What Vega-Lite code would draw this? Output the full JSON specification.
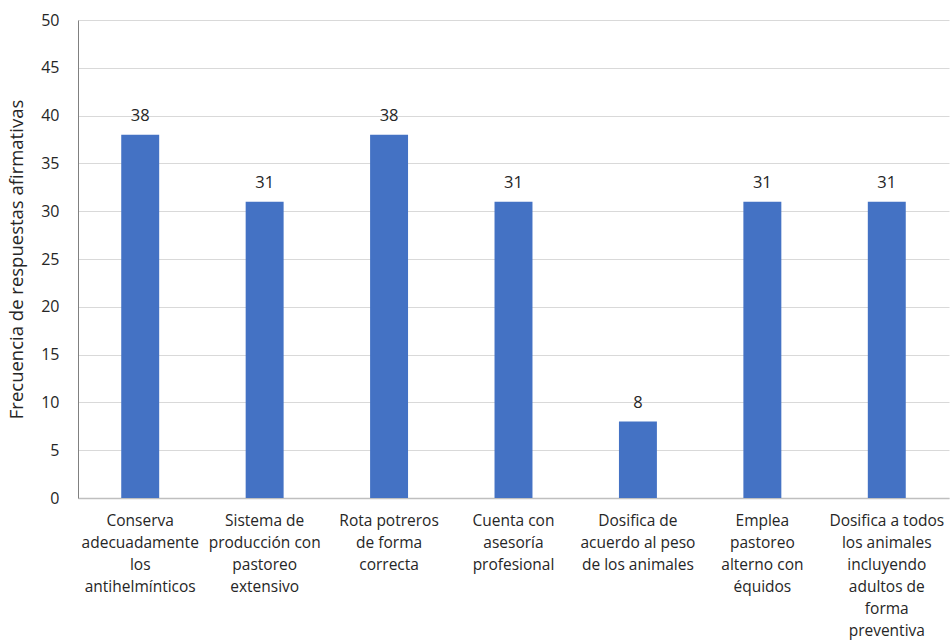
{
  "$schema": "https://vega.github.io/schema/vega-lite/v6.json",
  "autosize": {"type": "none"},
  "width": 871,
  "height": 478,
  "padding": {"left": 78, "top": 20, "right": 2, "bottom": 146},
  "background": "white",
  "config": {
    "view": {"stroke": null},
    "font": "Open Sans"
  },
  "data": {
    "values": [
      {"label": "Conserva|adecuadamente|los|antihelmínticos", "valor": 38},
      {"label": "Sistema de|producción con|pastoreo|extensivo", "valor": 31},
      {"label": "Rota potreros|de forma|correcta", "valor": 38},
      {"label": "Cuenta con|asesoría|profesional", "valor": 31},
      {"label": "Dosifica de|acuerdo al peso|de los animales", "valor": 8},
      {"label": "Emplea|pastoreo|alterno con|équidos", "valor": 31},
      {"label": "Dosifica a todos|los animales|incluyendo|adultos de|forma|preventiva", "valor": 31}
    ]
  },
  "encoding": {
    "x": {
      "field": "label",
      "type": "nominal",
      "sort": null,
      "scale": {"paddingInner": 0, "paddingOuter": 0},
      "axis": {
        "title": null,
        "labelAngle": 0,
        "labelExpr": "split(datum.label, '|')",
        "labelLineHeight": 22,
        "labelFontSize": 15.5,
        "labelColor": "#262626",
        "labelPadding": 15,
        "labelBaseline": "top",
        "ticks": false,
        "domainColor": "#BFBFBF",
        "domainWidth": 1.5,
        "labelLimit": 200
      }
    },
    "y": {
      "field": "valor",
      "type": "quantitative",
      "scale": {"domain": [0, 50]},
      "axis": {
        "title": "Frecuencia de respuestas afirmativas",
        "titleFontSize": 18.5,
        "titleFontWeight": "normal",
        "titleColor": "#262626",
        "titlePadding": 14,
        "values": [0, 5, 10, 15, 20, 25, 30, 35, 40, 45, 50],
        "labelFontSize": 16,
        "labelColor": "#262626",
        "labelPadding": 19,
        "ticks": false,
        "domainColor": "#808080",
        "gridColor": "#D9D9D9",
        "grid": true
      }
    }
  },
  "layer": [
    {
      "mark": {"type": "bar", "color": "#4472C4", "width": {"band": 0.305}}
    },
    {
      "mark": {"type": "text", "dy": -19, "fontSize": 16.5, "color": "#262626"},
      "encoding": {"text": {"field": "valor", "type": "quantitative"}}
    }
  ]
}
